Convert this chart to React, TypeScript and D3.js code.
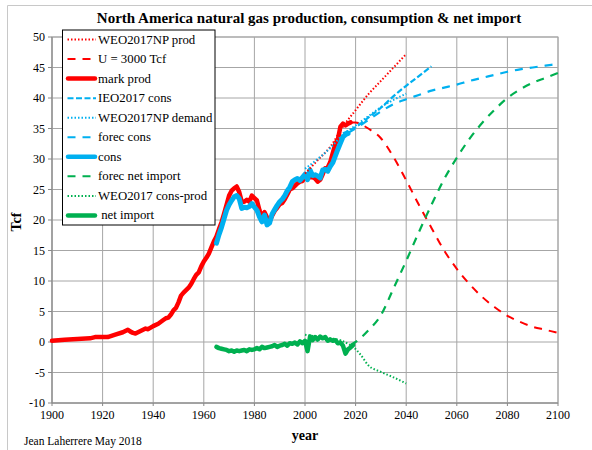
import React from "react";
import * as d3 from "d3";

type P = [number, number];

const markProd: P[] = [
  [1900, 0.2], [1905, 0.35], [1910, 0.5], [1915, 0.6], [1917, 0.8], [1920, 0.8], [1922, 0.8],
  [1925, 1.2], [1928, 1.6], [1930, 2.0], [1931, 1.7], [1932, 1.5], [1933, 1.4], [1935, 1.8],
  [1937, 2.2], [1938, 2.1], [1940, 2.6], [1942, 3.0], [1944, 3.6], [1945, 3.9], [1946, 4.0],
  [1947, 4.5], [1948, 5.2], [1949, 5.6], [1950, 6.5], [1951, 7.6], [1952, 8.1], [1953, 8.5],
  [1954, 8.9], [1955, 9.5], [1956, 10.3], [1957, 11.0], [1958, 11.4], [1959, 12.4], [1960, 13.2],
  [1961, 13.8], [1962, 14.5], [1963, 15.5], [1964, 16.5], [1965, 17.3], [1966, 18.5], [1967, 19.6],
  [1968, 21.0], [1969, 22.5], [1970, 24.0], [1971, 24.8], [1972, 25.2], [1973, 25.5], [1974, 24.6],
  [1975, 23.0], [1976, 23.0], [1977, 23.3], [1978, 23.0], [1979, 24.0], [1980, 23.6], [1981, 23.2],
  [1982, 21.6], [1983, 20.2], [1984, 21.3], [1985, 20.4], [1986, 19.8], [1987, 20.7], [1988, 21.5],
  [1989, 22.0], [1990, 22.6], [1991, 22.8], [1992, 23.4], [1993, 24.2], [1994, 25.0], [1995, 25.2],
  [1996, 25.6], [1997, 26.0], [1998, 26.3], [1999, 26.4], [2000, 27.0], [2001, 27.5], [2002, 27.0],
  [2003, 27.0], [2004, 26.8], [2005, 26.3], [2006, 26.6], [2007, 27.5], [2008, 28.5], [2009, 28.6],
  [2010, 29.5], [2011, 31.0], [2012, 32.5], [2013, 33.2], [2014, 35.3], [2015, 35.8], [2016, 35.5],
  [2017, 35.8], [2018, 36.0],
];

const cons: P[] = [
  [1965, 16.2], [1966, 17.6], [1967, 18.8], [1968, 20.2], [1969, 21.6], [1970, 22.5], [1971, 23.2],
  [1972, 23.8], [1973, 24.0], [1974, 23.5], [1975, 21.9], [1976, 22.1], [1977, 22.0], [1978, 22.2],
  [1979, 22.7], [1980, 22.1], [1981, 21.6], [1982, 20.5], [1983, 19.7], [1984, 20.8], [1985, 19.2],
  [1986, 19.5], [1987, 21.0], [1988, 21.7], [1989, 22.4], [1990, 23.0], [1991, 23.4], [1992, 24.0],
  [1993, 24.8], [1994, 25.4], [1995, 26.3], [1996, 26.6], [1997, 26.8], [1998, 26.5], [1999, 27.0],
  [2000, 27.5], [2001, 26.6], [2002, 28.2], [2003, 27.3], [2004, 27.4], [2005, 27.2], [2006, 26.9],
  [2007, 28.2], [2008, 28.3], [2009, 28.0], [2010, 28.8], [2011, 29.4], [2012, 30.5], [2013, 31.6],
  [2014, 32.6], [2015, 33.6], [2016, 34.0], [2017, 34.2],
];

const netImport: P[] = [
  [1965, -0.8], [1966, -1.0], [1967, -1.1], [1968, -1.2], [1969, -1.3], [1970, -1.5], [1971, -1.4],
  [1972, -1.6], [1973, -1.4], [1974, -1.5], [1975, -1.4], [1976, -1.3], [1977, -1.5], [1978, -1.2],
  [1979, -1.3], [1980, -1.2], [1981, -1.0], [1982, -1.2], [1983, -0.8], [1984, -1.0], [1985, -0.9],
  [1986, -0.8], [1987, -0.7], [1988, -0.5], [1989, -0.8], [1990, -0.6], [1991, -0.5], [1992, -0.3],
  [1993, -0.6], [1994, -0.2], [1995, -0.3], [1996, -0.1], [1997, -0.4], [1998, 0.1], [1999, -0.2],
  [2000, 0.2], [2001, -1.5], [2002, 0.9], [2003, 0.3], [2004, 0.8], [2005, 0.4], [2006, 0.9],
  [2007, 0.6], [2008, 0.8], [2009, 0.2], [2010, 0.4], [2011, 0.2], [2012, 0.3], [2013, -0.2],
  [2014, -0.1], [2015, -0.6], [2016, -1.9], [2017, -1.2], [2018, -0.9], [2019, -0.5],
];

const weoProd: P[] = [
  [2000, 27.6], [2005, 29.8], [2010, 32.0], [2015, 35.3], [2020, 38.0], [2025, 40.6],
  [2030, 42.8], [2035, 45.0], [2040, 47.2],
];

const u3000: P[] = [
  [2018, 36.0], [2020, 36.0], [2023, 35.5], [2025, 35.0], [2030, 33.4], [2035, 30.3], [2040, 26.5],
  [2045, 22.5], [2050, 18.7], [2055, 15.0], [2060, 12.0], [2065, 9.5], [2070, 7.4], [2075, 5.7],
  [2080, 4.3], [2085, 3.3], [2090, 2.5], [2095, 2.0], [2100, 1.5],
];

const ieoCons: P[] = [
  [2015, 34.2], [2020, 35.2], [2025, 36.8], [2030, 38.4], [2035, 40.3], [2040, 42.0],
  [2045, 43.6], [2050, 45.2],
];

const weoDemand: P[] = [
  [2000, 28.4], [2005, 30.0], [2010, 31.8], [2015, 34.0], [2020, 35.5], [2025, 37.0],
  [2030, 38.5], [2035, 39.7], [2040, 40.7],
];

const forecCons: P[] = [
  [2017, 34.3], [2020, 35.0], [2025, 36.4], [2030, 37.8], [2035, 39.0], [2040, 39.8],
  [2045, 40.5], [2050, 41.2], [2055, 41.7], [2060, 42.2], [2065, 42.8], [2070, 43.3],
  [2075, 43.8], [2080, 44.3], [2085, 44.7], [2090, 45.0], [2095, 45.3], [2100, 45.6],
];

const forecNetImport: P[] = [
  [2018, -0.5], [2020, 0.0], [2025, 1.9], [2030, 4.4], [2035, 8.8], [2040, 13.3], [2045, 18.0],
  [2050, 22.5], [2055, 26.7], [2060, 30.2], [2065, 33.3], [2070, 35.9], [2075, 38.1],
  [2080, 40.0], [2085, 41.4], [2090, 42.5], [2095, 43.3], [2100, 44.1],
];

const weoConsProd: P[] = [
  [2000, 1.2], [2003, 1.0], [2006, 0.8], [2010, 0.6], [2014, 0.3], [2017, -0.3], [2019, -0.8],
  [2022, -2.1], [2025, -3.8], [2030, -4.9], [2035, -5.8], [2040, -6.8],
];

const xTicks = [1900, 1920, 1940, 1960, 1980, 2000, 2020, 2040, 2060, 2080, 2100];
const yTicks = [-10, -5, 0, 5, 10, 15, 20, 25, 30, 35, 40, 45, 50];

const legendLabels = [
  "WEO2017NP prod",
  "U = 3000 Tcf",
  "mark prod",
  "IEO2017 cons",
  "WEO2017NP demand",
  "forec cons",
  "cons",
  "forec net import",
  "WEO2017 cons-prod",
  " net import",
];

const RED = "#ff0000";
const BLUE = "#00b0f0";
const GREEN = "#00b050";
const FONT = "'Liberation Serif', 'Times New Roman', serif";

type Style = { color: string; width: number; dash?: string; cap?: string; smooth?: boolean };

const styles: Style[] = [
  { color: RED, width: 2, dash: "1.5 2", cap: "butt", smooth: true },
  { color: RED, width: 2, dash: "8 7", cap: "butt", smooth: true },
  { color: RED, width: 4.5, cap: "round" },
  { color: BLUE, width: 2.2, dash: "6 2.5", cap: "butt", smooth: true },
  { color: BLUE, width: 2, dash: "1.5 2", cap: "butt", smooth: true },
  { color: BLUE, width: 2.2, dash: "8 7", cap: "butt", smooth: true },
  { color: BLUE, width: 5, cap: "round" },
  { color: GREEN, width: 2.2, dash: "8 7", cap: "butt", smooth: true },
  { color: GREEN, width: 2, dash: "1.5 2", cap: "butt", smooth: true },
  { color: GREEN, width: 4.5, cap: "round" },
];

const seriesData: P[][] = [
  weoProd, u3000, markProd, ieoCons, weoDemand, forecCons, cons, forecNetImport, weoConsProd, netImport,
];

// draw order: thick history lines first, then forecasts
const drawOrder = [2, 6, 0, 4, 3, 5, 1, 8, 7, 9];

export default function App() {
  const L = 52, R = 558, T = 37, B = 403;
  const x = d3.scaleLinear().domain([1900, 2100]).range([L, R]);
  const y = d3.scaleLinear().domain([-10, 50]).range([B, T]);

  const mkLine = (smooth?: boolean) =>
    d3
      .line<P>()
      .x((d) => x(d[0]))
      .y((d) => y(d[1]))
      .curve(smooth ? d3.curveMonotoneX : d3.curveLinear);

  const gridColor = "#a6a6a6";
  const legX = 62.5, legY = 30, legW = 152.5, legH = 195;
  const rowY = (i: number) => 39.5 + i * 19.55;

  return (
    <svg
      width={592}
      height={450}
      style={{ position: "absolute", left: 0, top: 0, background: "#fff" }}
      fontFamily={FONT}
    >
      <rect x={0} y={0} width={592} height={450} fill="#fff" />
      {/* outer frame */}
      <line x1={7.5} y1={5.5} x2={592} y2={5.5} stroke="#c8c8c8" strokeWidth={1} />
      <line x1={7.5} y1={5.5} x2={7.5} y2={450} stroke="#c8c8c8" strokeWidth={1} />

      <text x={309} y={23} textAnchor="middle" fontSize={15} fontWeight="bold">
        North America natural gas production, consumption &amp; net import
      </text>

      {/* grid */}
      {yTicks.map((t) => (
        <line key={"gy" + t} x1={L} x2={R} y1={y(t)} y2={y(t)} stroke={gridColor} strokeWidth={1} />
      ))}
      {xTicks.map((t) => (
        <line key={"gx" + t} x1={x(t)} x2={x(t)} y1={T} y2={B} stroke={gridColor} strokeWidth={1} />
      ))}
      <rect x={L} y={T} width={R - L} height={B - T} fill="none" stroke={gridColor} strokeWidth={1} />
      <line x1={L} x2={L} y1={T} y2={B} stroke="#888" strokeWidth={1} />
      <line x1={L} x2={R} y1={B} y2={B} stroke="#888" strokeWidth={1} />

      {/* y ticks */}
      {yTicks.map((t) => (
        <g key={"ty" + t}>
          <line x1={L - 4} x2={L} y1={y(t)} y2={y(t)} stroke="#888" />
          <text x={L - 7} y={y(t) + 4} textAnchor="end" fontSize={12}>
            {t}
          </text>
        </g>
      ))}
      {xTicks.map((t) => (
        <g key={"tx" + t}>
          <line x1={x(t)} x2={x(t)} y1={B} y2={B + 3} stroke="#888" />
          <text x={x(t)} y={B + 16} textAnchor="middle" fontSize={12}>
            {t}
          </text>
        </g>
      ))}

      <text
        transform={`translate(21,222) rotate(-90)`}
        textAnchor="middle"
        fontSize={14}
        fontWeight="bold"
      >
        Tcf
      </text>
      <text x={305} y={440} textAnchor="middle" fontSize={14} fontWeight="bold">
        year
      </text>
      <text x={24} y={445} fontSize={11.5}>
        Jean Laherrere May 2018
      </text>

      {/* series */}
      <g>
        {drawOrder.map((i) => {
          const s = styles[i];
          return (
            <path
              key={"s" + i}
              d={mkLine(s.smooth)(seriesData[i]) || ""}
              fill="none"
              stroke={s.color}
              strokeWidth={s.width}
              strokeDasharray={s.dash}
              strokeLinecap={s.cap as any}
              strokeLinejoin="round"
            />
          );
        })}
      </g>

      {/* legend */}
      <rect x={legX} y={legY} width={legW} height={legH} fill="#fff" stroke="#000" strokeWidth={1} />
      {legendLabels.map((lab, i) => {
        const s = styles[i];
        const yy = rowY(i);
        const thick = s.width > 4;
        return (
          <g key={"lg" + i}>
            <line
              x1={thick ? 68 : 67.5}
              x2={thick ? 95 : 96}
              y1={yy}
              y2={yy}
              stroke={s.color}
              strokeWidth={thick ? 4.5 : 2}
              strokeDasharray={s.dash}
              strokeLinecap={thick ? "round" : "butt"}
            />
            <text x={98} y={yy + 4} fontSize={12.8} style={{ whiteSpace: "pre" }}>
              {lab}
            </text>
          </g>
        );
      })}
    </svg>
  );
}
